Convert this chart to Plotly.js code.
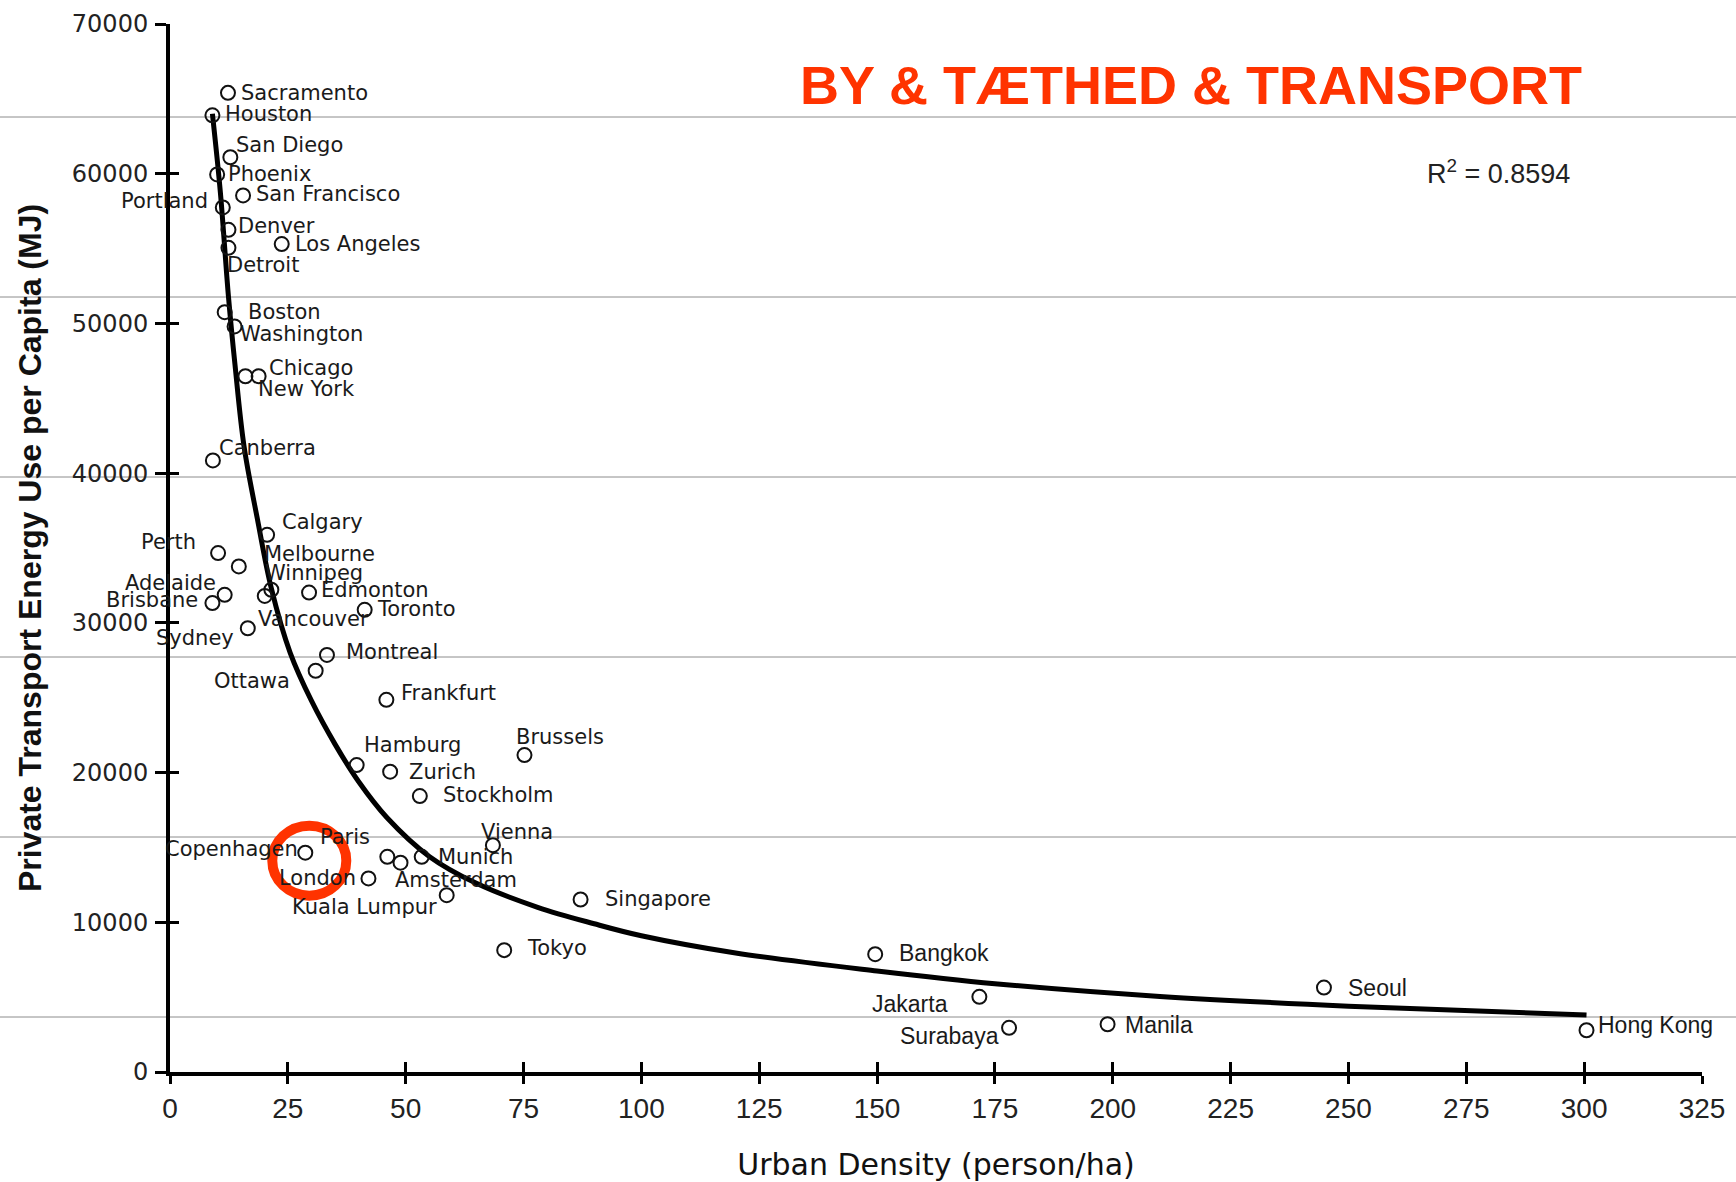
<!DOCTYPE html>
<html>
<head>
<meta charset="utf-8">
<script src="https://cdn.plot.ly/plotly-3.0.1.min.js"></script>
<style>html,body{margin:0;padding:0;background:#fff;}#chart{width:1736px;height:1182px;}</style>
</head>
<body>
<div id="chart"></div>
<script>
// ---- data ----
const cities = ["Sacramento","Houston","San Diego","Phoenix","San Francisco","Portland","Denver","Los Angeles","Detroit",
  "Boston","Washington","Chicago","New York","Canberra","Calgary","Perth","Melbourne","Winnipeg","Adelaide","Brisbane",
  "Vancouver","Edmonton","Toronto","Sydney","Montreal","Ottawa","Frankfurt","Hamburg","Zurich","Brussels","Stockholm",
  "Vienna","Copenhagen","Paris","Munich","Amsterdam","London","Kuala Lumpur","Singapore","Tokyo","Bangkok","Jakarta",
  "Surabaya","Manila","Seoul","Hong Kong"];
const density = [12.3, 9.0, 12.8, 10.0, 15.5, 11.2, 12.4, 23.7, 12.4,
  11.6, 13.7, 16.0, 18.8, 9.1, 20.6, 10.2, 14.6, 21.5, 11.6, 9.0,
  20.1, 29.5, 41.3, 16.5, 33.3, 30.9, 45.9, 39.6, 46.7, 75.2, 53.0,
  68.5, 28.7, 46.1, 53.4, 48.9, 42.1, 58.7, 87.1, 70.9, 149.6, 171.7,
  178.0, 198.9, 244.8, 300.5];
const energy = [65400, 63900, 61100, 59950, 58550, 57750, 56250, 55300, 55050,
  50750, 49800, 46470, 46470, 40850, 35880, 34660, 33770, 32210, 31870, 31320,
  31800, 32020, 30870, 29640, 27860, 26800, 24860, 20500, 20060, 21170, 18430,
  15150, 14650, 14370, 14370, 13980, 12930, 11810, 11520, 8140, 7870, 5020,
  2950, 3190, 5640, 2790];
// trend curve as drawn in the reference
const trendX = [9.0, 10.7, 12.4, 13.8, 15.7, 18.5, 21.5, 25.5, 30, 35, 40, 46, 55, 65, 78, 90, 100, 120, 150, 175, 210, 250, 300.5];
const trendY = [64000, 58700, 51800, 47200, 41800, 37000, 32300, 28000, 24800, 21900, 19400, 17000, 14400, 12600, 11000, 9900, 9100, 7950, 6750, 5900, 5050, 4400, 3800];
const xTicks = [0,25,50,75,100,125,150,175,200,225,250,275,300,325];
const yTicks = [0,10000,20000,30000,40000,50000,60000,70000];
const chartTitle = "BY &amp; TÆTHED &amp; TRANSPORT";
const rSquared = "R<sup>2</sup> = 0.8594";
const xTitle = "Urban Density (person/ha)";
const yTitle = "Private Transport Energy Use per Capita (MJ)";
const highlightCity = "Copenhagen";

// ---- label placement (pixels, relative to each point) ----
const labelSide = ["l","l","l","l","l","r","l","l","l",
  "l","l","l","l","l","l","r","l","l","r","r",
  "l","l","l","r","l","r","l","l","l","l","l",
  "l","r","r","l","l","r","r","l","l","l","r",
  "r","l","l","l"];
const labelDx = [11,11,4,9,11,-13,8,11,-3,
  21,3,22,-3,4,13,-20,23,-8,-7,-12,
  -9,10,10,-12,17,-24,13,5,17,-10,21,
  -14,-5,-15,14,-8,-10,-8,22,21,22,-29,
  -8,15,22,9];
const labelDy = [0,-1,-12,0,-1,-6,-4,0,17,
  0,8,-8,13,-12,-13,-11,-12,-17,-12,-3,
  23,-3,-1,10,-3,10,-7,-20,0,-18,-1,
  -13,-4,-20,0,17,0,12,-1,-2,-1,7,
  8,1,0,-5];
const narrowLabels = new Set(["Bangkok","Jakarta","Surabaya","Manila","Seoul","Hong Kong"]);
const scanLineRows = [117, 297, 477, 657, 837, 1017];

const M = {l:170, r:34, t:24, b:110};
const W = 1736, H = 1182;
const plotW = W - M.l - M.r, plotH = H - M.t - M.b;

const traces = [
  {type:'scatter', mode:'lines', x:trendX, y:trendY, line:{color:'#000', width:5, shape:'spline', smoothing:1},
   hoverinfo:'skip', showlegend:false},
  {type:'scatter', mode:'markers', x:density, y:energy, text:cities,
   marker:{symbol:'circle-open', size:14, color:'#111', line:{width:2, color:'#111'}},
   showlegend:false},
  {type:'scatter', mode:'markers', x:[], y:[], xaxis:'x2', yaxis:'y2', showlegend:false, hoverinfo:'skip'}
];

const annotations = cities.map((c, i) => ({
  x: density[i], y: energy[i], xref:'x', yref:'y', text:c, showarrow:false,
  xanchor: labelSide[i] === 'l' ? 'left' : 'right', yanchor:'middle',
  xshift: labelDx[i], yshift: -labelDy[i],
  font: narrowLabels.has(c) ? {family:'Liberation Sans, Arial, sans-serif', size:23, color:'#1a1a1a'}
                            : {family:'DejaVu Sans, Verdana, sans-serif', size:21, color:'#1a1a1a'}
}));
annotations.push({
  xref:'paper', yref:'paper', x:(1498 - M.l)/plotW, y:(M.t + plotH - 172)/plotH,
  text:rSquared, showarrow:false, xanchor:'center', yanchor:'middle',
  font:{family:'Liberation Sans, Arial, sans-serif', size:27, color:'#222'}
});

const hi = cities.indexOf(highlightCity);
const shapes = scanLineRows.map(r => ({
  type:'line', xref:'paper', yref:'paper', x0:-M.l/plotW, x1:1 + M.r/plotW,
  y0:(M.t + plotH - r)/plotH, y1:(M.t + plotH - r)/plotH,
  line:{color:'#8c8c8c', width:1}, layer:'below'
}));
shapes.push({
  type:'circle', xref:'x', yref:'y', xsizemode:'pixel', ysizemode:'pixel',
  xanchor: density[hi], yanchor: energy[hi],
  x0:4-37, x1:4+37, y0:-8-35, y1:-8+35,
  line:{color:'#ff3300', width:10}, layer:'above'
});

const axisBase = {showgrid:false, zeroline:false, fixedrange:true};
const layout = {
  width:W, height:H, margin:M, paper_bgcolor:'#fff', plot_bgcolor:'#fff',
  title:{text:chartTitle, x:1191/W, xref:'container', xanchor:'center', y:1 - 85/H, yanchor:'middle',
         font:{family:'Liberation Sans, Arial, sans-serif', size:54, color:'#ff3300', weight:'bold'}},
  xaxis:Object.assign({}, axisBase, {range:[0,325], tickvals:xTicks, ticks:'outside', ticklen:8, tickwidth:3, tickcolor:'#000',
         showline:true, linewidth:4, linecolor:'#000', ticklabelstandoff:0,
         tickfont:{family:'Liberation Sans, Arial, sans-serif', size:28, color:'#222'},
         title:{text:xTitle, standoff:32, font:{family:'DejaVu Sans, sans-serif', size:30, color:'#111'}}}),
  yaxis:Object.assign({}, axisBase, {range:[0,70000], tickvals:yTicks, tickformat:'d', ticks:'outside', ticklen:11, tickwidth:3, tickcolor:'#000',
         showline:true, linewidth:4, linecolor:'#000', ticklabelstandoff:2,
         tickfont:{family:'DejaVu Sans, sans-serif', size:24, color:'#222'},
         title:{text:yTitle, standoff:22, font:{family:'Liberation Sans, Arial, sans-serif', size:32, color:'#111', weight:'bold'}}}),
  xaxis2:Object.assign({}, axisBase, {range:[0,325], tickvals:xTicks, overlaying:'x', anchor:'y', ticks:'inside', ticklen:10, tickwidth:3,
         tickcolor:'#000', showticklabels:false, showline:false}),
  yaxis2:Object.assign({}, axisBase, {range:[0,70000], tickvals:yTicks, overlaying:'y', anchor:'x', side:'left', ticks:'inside', ticklen:9,
         tickwidth:3, tickcolor:'#000', showticklabels:false, showline:false}),
  annotations:annotations, shapes:shapes, showlegend:false
};

Plotly.newPlot('chart', traces, layout, {staticPlot:true, displayModeBar:false});
</script>
</body>
</html>
